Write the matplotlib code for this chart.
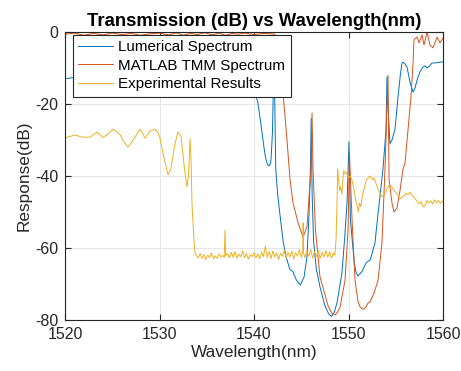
import matplotlib
matplotlib.use("Agg")
import matplotlib.pyplot as plt

plt.rcParams['font.family'] = ['Liberation Sans', 'DejaVu Sans']
plt.rcParams['axes.unicode_minus'] = False

# Lumerical simulation (blue)
lum_wl = [1520.0, 1521.0, 1523.0, 1525.0, 1527.0, 1529.0, 1531.0, 1533.0, 1535.0, 1537.0,
          1538.5, 1539.5, 1540.0, 1540.4, 1540.7, 1541.0, 1541.15, 1541.3, 1541.45, 1541.6,
          1541.7, 1541.8, 1541.95, 1542.05, 1542.12, 1542.2, 1542.3, 1542.5, 1542.8, 1543.1,
          1543.4, 1543.8, 1544.1, 1544.5, 1544.9, 1545.3, 1545.6, 1545.8, 1545.95, 1546.05,
          1546.15, 1546.3, 1546.6, 1547.0, 1547.5, 1547.9, 1548.2, 1548.5, 1548.8, 1549.3,
          1549.6, 1549.85, 1550.05, 1550.2, 1550.4, 1550.6, 1550.8, 1551.0, 1551.4, 1551.9,
          1552.3, 1552.8, 1553.1, 1553.4, 1553.65, 1553.97, 1554.07, 1554.2, 1554.39, 1554.6,
          1554.92, 1555.24, 1555.5, 1555.66, 1555.77, 1555.95, 1556.19, 1556.51, 1556.83, 1557.05,
          1557.25, 1557.57, 1557.85, 1558.1, 1558.3, 1558.55, 1558.84, 1559.15, 1559.6, 1560.0]
lum_db = [-13.0, -12.6, -13.4, -12.9, -13.5, -12.8, -13.3, -12.7, -13.6, -12.4,
          -13.8, -14.5, -16.0, -19.5, -25.0, -31.0, -33.8, -35.8, -36.9, -37.2,
          -36.8, -35.5, -28.0, -15.0, -6.0, -20.0, -38.0, -45.0, -52.0, -58.5,
          -62.5, -66.0, -66.5, -69.0, -70.3, -68.0, -62.5, -52.0, -40.0, -24.0,
          -45.0, -58.0, -66.0, -71.0, -76.0, -78.3, -79.0, -77.8, -75.0, -67.0,
          -57.0, -47.0, -30.5, -52.0, -58.0, -64.0, -66.8, -67.8, -66.6, -64.0,
          -63.3, -58.6, -51.0, -44.0, -38.0, -27.0, -12.5, -22.0, -31.0, -30.0,
          -27.0, -18.0, -11.5, -8.6, -8.4, -8.8, -9.7, -14.0, -16.7, -15.5,
          -13.3, -11.0, -9.8, -9.4, -10.0, -9.5, -8.6, -8.6, -8.4, -8.3]

# MATLAB transfer-matrix model (orange)
tmm_wl = [1520.0, 1521.0, 1522.0, 1523.0, 1524.0, 1525.0, 1526.0, 1527.0, 1528.0, 1529.0,
          1530.0, 1531.0, 1531.8, 1532.5, 1533.3, 1534.0, 1534.8, 1535.6, 1536.3, 1537.0,
          1537.7, 1538.3, 1539.0, 1540.0, 1541.0, 1541.8, 1542.22, 1542.54, 1543.07, 1543.49,
          1543.81, 1544.13, 1544.66, 1545.19, 1545.61, 1545.82, 1546.03, 1546.14, 1546.24, 1546.5,
          1546.98, 1547.3, 1547.83, 1548.2, 1548.57, 1548.85, 1549.1, 1549.63, 1549.95, 1550.1,
          1550.37, 1550.69, 1551.01, 1551.25, 1551.53, 1551.8, 1552.06, 1552.28, 1552.7, 1553.12,
          1553.54, 1553.86, 1554.18, 1554.29, 1554.6, 1554.81, 1555.13, 1555.45, 1555.77, 1555.98,
          1556.3, 1556.61, 1556.83, 1556.93, 1557.25, 1557.46, 1557.78, 1557.99, 1558.31, 1558.62,
          1558.94, 1559.37, 1559.68, 1560.0]
tmm_db = [-0.6, -0.3, -0.9, -0.4, -0.8, -0.3, -0.7, -0.4, -0.9, -0.5,
          -0.3, -0.8, -0.2, -0.9, -0.4, -0.7, -0.2, -0.8, -0.3, -0.9,
          -0.4, -0.6, -0.3, -0.7, -0.4, -0.5, -0.6, -5.0, -17.0, -30.0,
          -41.0, -47.5, -53.0, -57.0, -54.0, -46.0, -38.0, -22.5, -38.0, -55.0,
          -68.0, -71.0, -76.0, -78.0, -78.6, -77.8, -76.4, -69.0, -55.0, -33.6,
          -52.0, -69.0, -75.0, -76.5, -77.0, -76.6, -75.3, -75.0, -72.5, -69.0,
          -58.6, -38.0, -12.0, -41.0, -47.5, -50.0, -48.9, -44.0, -38.0, -36.4,
          -27.0, -18.0, -8.6, -2.2, -1.4, -3.0, -0.8, -3.6, 0.0, -3.6,
          -4.4, -1.4, -3.0, -1.7]

# Experimental measurement (yellow)
exp_wl = [1520.0, 1521.06, 1521.8, 1522.65, 1523.39, 1524.02, 1524.55, 1525.08, 1525.82, 1526.24,
          1526.67, 1527.2, 1527.94, 1528.47, 1529.0, 1529.52, 1529.84, 1530.05, 1530.48, 1530.9,
          1531.2, 1531.64, 1531.96, 1532.28, 1532.6, 1532.9, 1533.07, 1533.23, 1533.33, 1533.44,
          1533.65, 1533.76,
          1533.9, 1534.1, 1534.3, 1534.5, 1534.7, 1534.9, 1535.1, 1535.3, 1535.5, 1535.7,
          1535.9, 1536.1, 1536.3, 1536.5, 1536.7, 1536.85, 1536.93, 1537.0, 1537.2, 1537.4,
          1537.6, 1537.8, 1538.0, 1538.2, 1538.4, 1538.6, 1538.8, 1539.0, 1539.2, 1539.4,
          1539.6, 1539.8, 1540.0, 1540.2, 1540.4, 1540.6, 1540.8, 1541.0, 1541.2, 1541.4,
          1541.6, 1541.8, 1542.0, 1542.2, 1542.4, 1542.6, 1542.8, 1543.0, 1543.2, 1543.4,
          1543.6, 1543.8, 1544.0, 1544.2, 1544.4, 1544.6, 1544.8, 1545.0, 1545.15, 1545.2,
          1545.25, 1545.4, 1545.6, 1545.8, 1546.0, 1546.2, 1546.4, 1546.6, 1546.8, 1547.0,
          1547.2, 1547.4, 1547.6, 1547.8, 1548.0, 1548.2, 1548.4, 1548.55,
          1548.68, 1548.78, 1548.85, 1548.95, 1549.05, 1549.15, 1549.3, 1549.4, 1549.5, 1549.65,
          1549.8, 1550.0, 1550.2, 1550.4, 1550.6, 1550.75, 1550.9, 1551.05, 1551.15, 1551.3,
          1551.5, 1551.7, 1551.9, 1552.1, 1552.3, 1552.5, 1552.7, 1552.9, 1553.1, 1553.3,
          1553.5, 1553.7, 1553.9, 1554.1, 1554.3, 1554.5, 1554.7, 1554.9, 1555.1, 1555.3,
          1555.5, 1555.7, 1555.9, 1556.1, 1556.3, 1556.5, 1556.7, 1556.9, 1557.1, 1557.3,
          1557.5, 1557.7, 1557.9, 1558.1, 1558.3, 1558.5, 1558.7, 1558.9, 1559.1, 1559.3,
          1559.5, 1559.7, 1559.9, 1560.0]
exp_db = [-29.4, -28.6, -29.2, -29.2, -27.8, -29.3, -28.3, -27.0, -28.5, -30.5,
          -32.0, -30.0, -27.0, -29.5, -27.5, -27.0, -28.0, -29.5, -35.0, -39.7,
          -38.0, -31.0, -27.8, -29.0, -37.0, -43.0, -40.0, -29.5, -35.0, -48.0,
          -58.0, -61.5,
          -62.0, -62.8, -61.5, -62.9, -61.8, -63.2, -62.0, -62.6, -61.4, -63.0,
          -62.2, -62.9, -61.6, -62.5, -62.1, -62.6, -55.0, -62.3, -61.5, -62.8,
          -61.2, -62.6, -61.0, -62.9, -61.7, -62.4, -60.8, -62.7, -61.5, -63.1,
          -61.9, -62.4, -61.3, -62.8, -61.6, -63.0, -61.2, -62.4, -59.5, -62.6,
          -61.0, -62.9, -60.8, -62.5, -61.4, -63.2, -61.5, -62.3, -60.6, -62.8,
          -61.2, -62.5, -60.9, -63.0, -61.4, -62.2, -60.5, -62.6, -61.0, -53.0,
          -61.5, -62.7, -60.8, -62.3, -60.4, -62.8, -61.0, -62.4, -60.6, -62.9,
          -61.2, -62.5, -60.7, -62.6, -61.1, -62.8, -61.4, -62.0,
          -57.5, -48.0, -38.0, -41.0, -44.0, -43.0, -45.0, -41.0, -38.5, -39.5,
          -39.0, -40.5, -40.0, -41.5, -44.0, -46.5, -48.0, -50.0, -47.5, -48.5,
          -45.0, -43.0, -41.0, -40.5, -40.0, -41.0, -40.5, -42.0, -43.5, -44.5,
          -45.5, -46.0, -44.5, -43.5, -42.5, -42.8, -43.5, -44.2, -45.0, -45.5,
          -46.3, -45.8, -45.5, -44.8, -45.2, -44.5, -45.3, -45.8, -46.5, -47.2,
          -47.8, -47.2, -48.6, -48.2, -46.8, -47.5, -46.9, -47.8, -46.6, -47.4,
          -46.8, -47.6, -47.0, -47.2]

xticks = [1520, 1530, 1540, 1550, 1560]
yticks = [-80, -60, -40, -20, 0]

fig = plt.figure(figsize=(4.61, 3.71), dpi=100)
ax = fig.add_axes([0.141, 0.1375, 0.820, 0.7762])

ax.plot(lum_wl, lum_db, color='#0072BD', lw=0.7, label='Lumerical Spectrum')
ax.plot(tmm_wl, tmm_db, color='#D95319', lw=0.7, label='MATLAB TMM Spectrum')
ax.plot(exp_wl, exp_db, color='#EDB120', lw=0.7, label='Experimental Results')

ax.set_xlim(1520, 1560)
ax.set_ylim(-80, 0)
ax.set_xticks(xticks)
ax.set_yticks(yticks)
ax.grid(True, color='#e6e6e6', lw=0.8)
ax.set_axisbelow(True)
ax.tick_params(direction='in', top=True, right=True, length=4, labelsize=11.5,
               colors='#262626', pad=5)
for s in ax.spines.values():
    s.set_color('#262626')
    s.set_linewidth(0.8)

ax.set_title('Transmission (dB) vs Wavelength(nm)', fontsize=13.3, fontweight='bold', pad=4)
ax.set_xlabel('Wavelength(nm)', fontsize=12.4, color='#262626', labelpad=2)
ax.set_ylabel('Response(dB)', fontsize=12.4, color='#262626', labelpad=2)

leg = ax.legend(loc='upper left', bbox_to_anchor=(0.021, 0.99), borderaxespad=0,
                fontsize=10.9, handlelength=2.3, handletextpad=0.35, labelspacing=0.3,
                borderpad=0.35, fancybox=False, framealpha=1, edgecolor='#262626')
leg.get_frame().set_linewidth(0.8)

fig.savefig('out.png', dpi=100)
